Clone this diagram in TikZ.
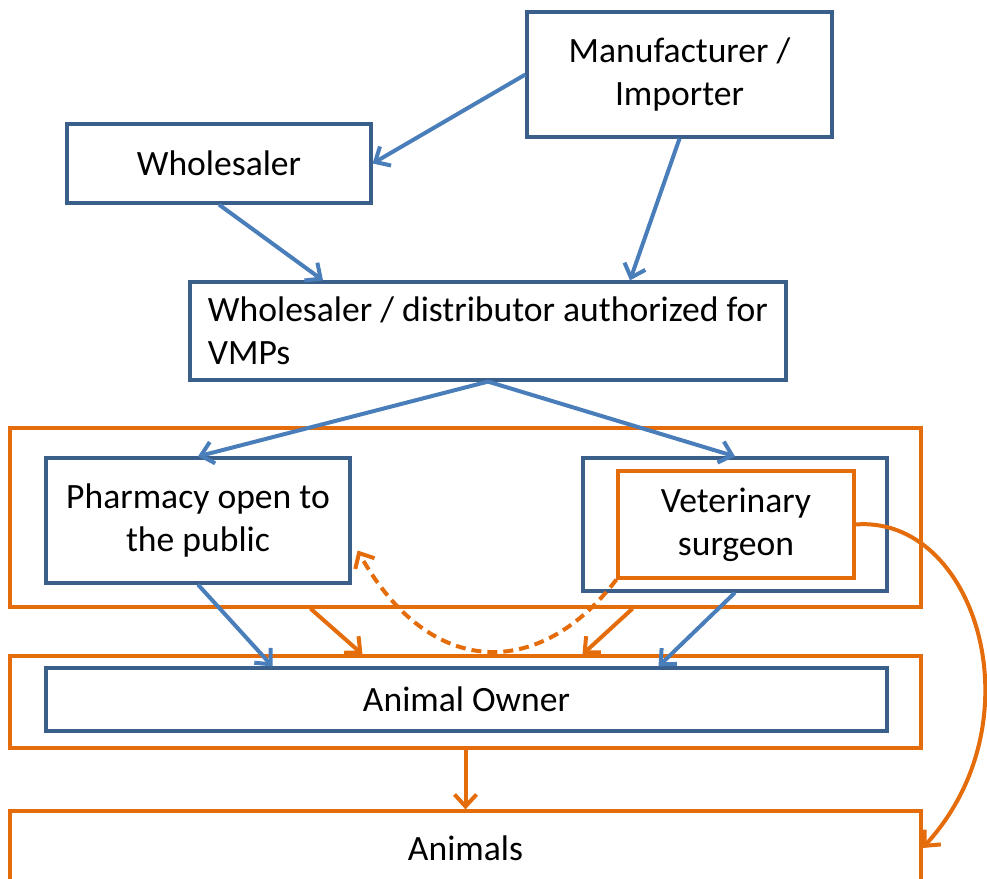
\documentclass[tikz,border=0pt]{standalone}
\usepackage{fontspec}
\setmainfont{Carlito}
\usetikzlibrary{fit,arrows.meta}
\definecolor{boxblue}{HTML}{3A5F8B}
\definecolor{lineblue}{HTML}{4A7EBB}
\definecolor{vmorange}{HTML}{E46C0A}
\begin{document}
\begin{tikzpicture}[x=0.5pt,y=-0.5pt,
  every node/.style={inner sep=0pt,align=center,
                     font=\fontsize{17.8}{21.5}\selectfont},
  bbox/.style={draw=boxblue,line width=1.6pt},
  obox/.style={draw=vmorange,line width=1.6pt},
  tip/.style={-{Straight Barb[length=6pt,width=11pt]},line width=2pt},
  bl/.style={tip,draw=lineblue},
  ol/.style={tip,draw=vmorange}]
\useasboundingbox (0,0) rectangle (987,879);
% supply chain
\node[bbox,fit={(527,12) (832,137)},label=center:{Manufacturer /\\Importer}] (M) {};
\node[bbox,fit={(67,124) (371,203)},label=center:Wholesaler] (W) {};
\node[bbox,fit={(190,282) (786,380)},
  label={[align=left]center:{Wholesaler / distributor authorized for\\VMPs}}] (D) {};
% retail level
\node[obox,fit={(10,428) (921,607)}] (S) {};
\node[bbox,fit={(46,458) (350,583)},label=center:{Pharmacy open to\\the public}] (P) {};
\node[bbox,fit={(583,458) (887,591)}] (V) {};
\node[obox,fit={(618,471) (854,578)},label=center:{Veterinary\\surgeon}] (VS) {};
% owner and animals
\node[obox,fit={(10,656) (921,748)}] (AO) {};
\node[bbox,fit={(46,668) (887,731)},label=center:Animal Owner] (O) {};
\node[obox,fit={(10,811) (921,885)},label=center:Animals] (A) {};

\draw[bl] (M.west) -- (W.east);
\draw[bl] (M.south) -- ([shift={(142,0)}]D.north);
\draw[bl] (W.south) -- ([shift={(-165,0)}]D.north);
\draw[bl] (D.south) -- (P.north);
\draw[bl] (D.south) -- (V.north);
\draw[bl] (P.south) -- ([shift={(-194,0)}]O.north);
\draw[bl] (V.south) -- ([shift={(192,0)}]O.north);
\draw[ol] ([shift={(-155,0)}]S.south) -- ([shift={(-103,0)}]AO.north);
\draw[ol] ([shift={(167,0)}]S.south) -- ([shift={(117,0)}]AO.north);
\draw[ol,dash pattern=on 5pt off 3pt] (VS.south west) .. controls (540,680) and (430,680)
  .. ([shift={(6,30)}]P.east);
\draw[ol] (VS.east) .. controls (975,515) and (1040,720) .. (A.east);
\draw[ol] (AO.south) -- (A.north);
\end{tikzpicture}
\end{document}
